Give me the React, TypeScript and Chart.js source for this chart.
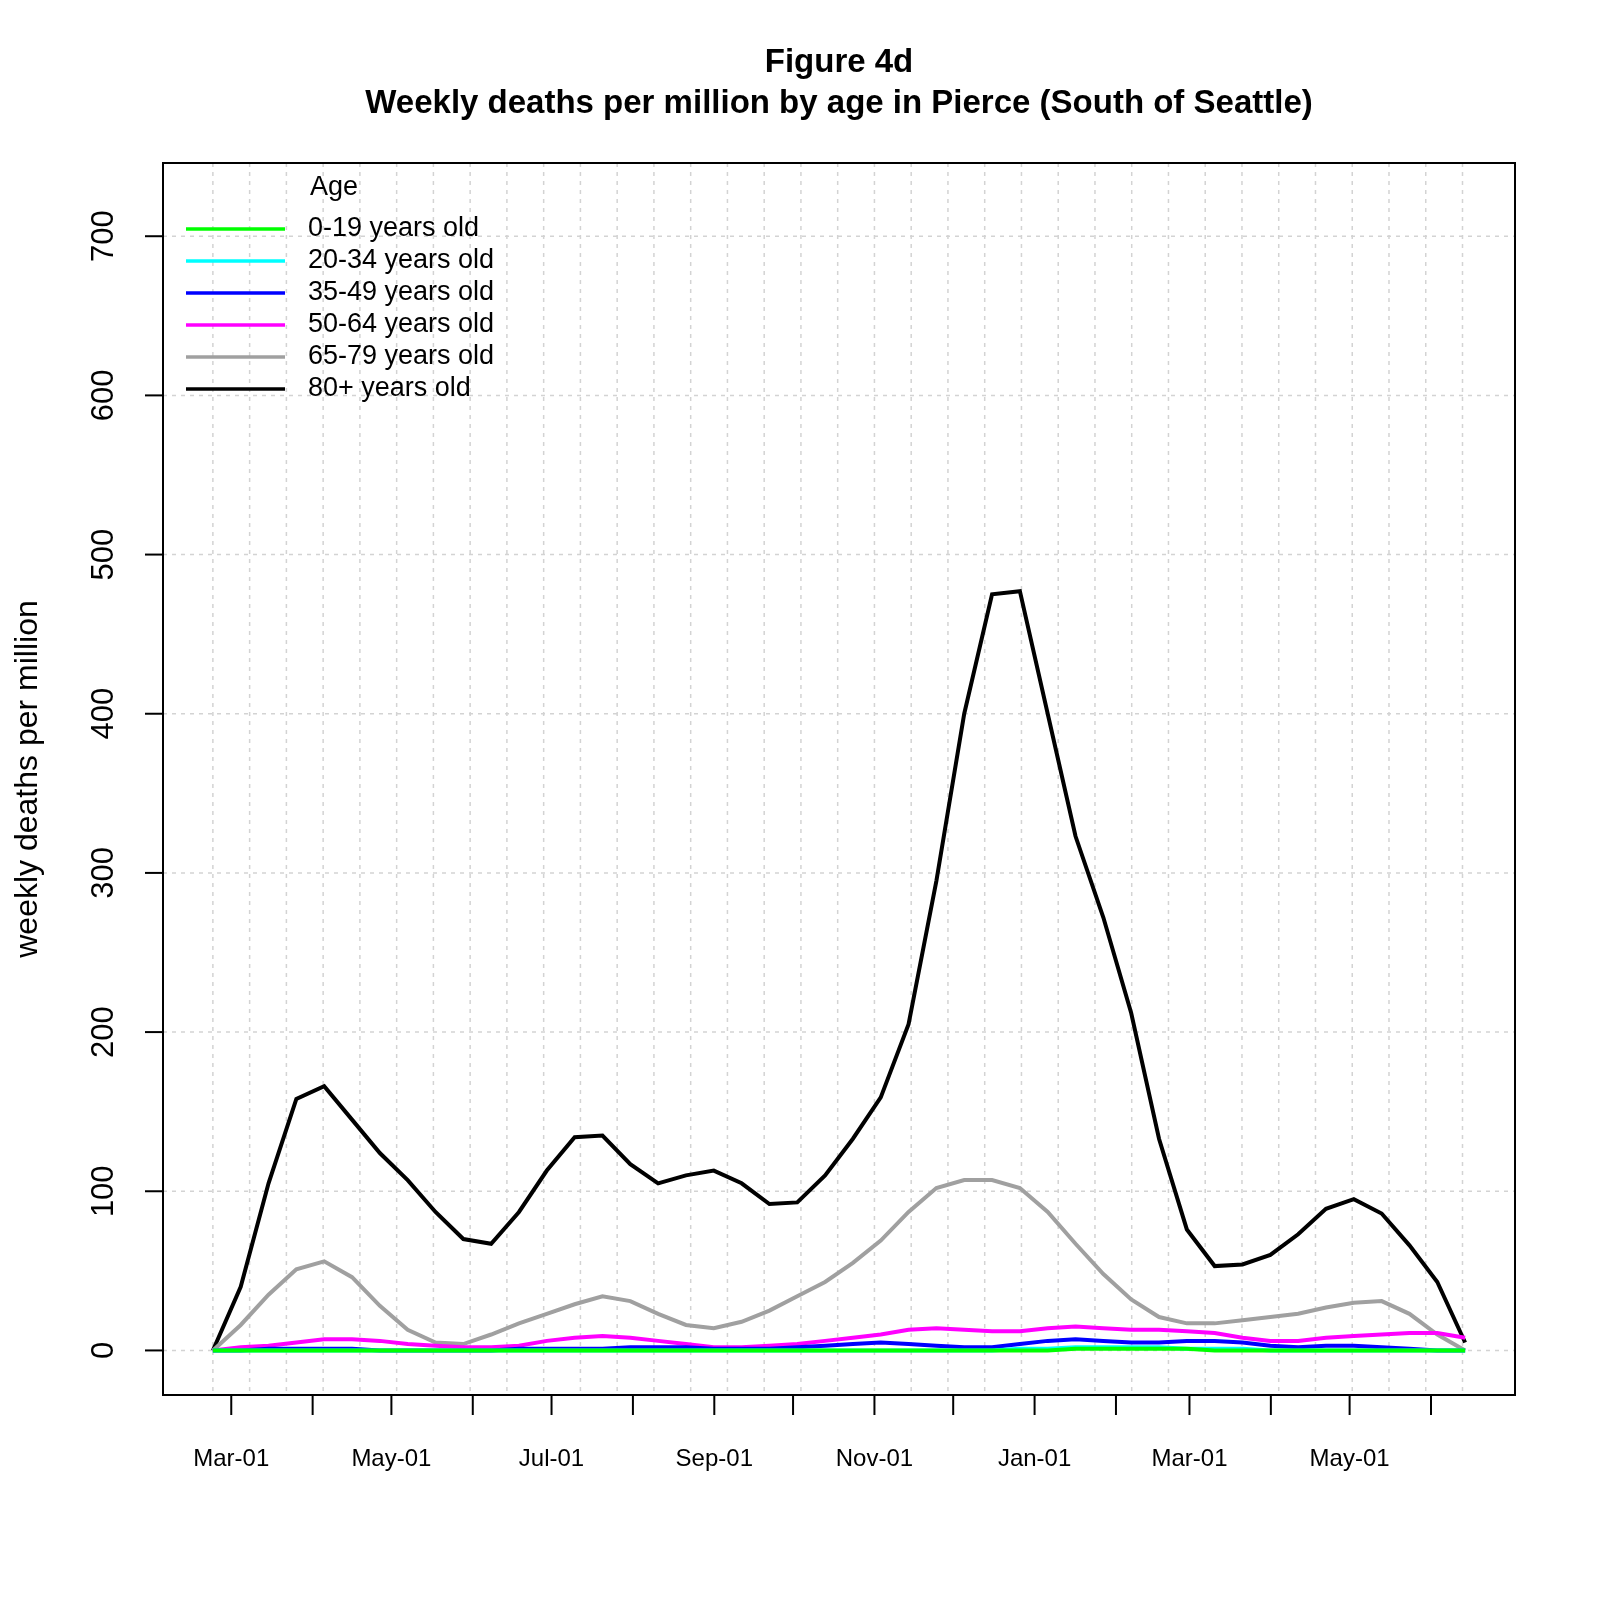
import React, { useEffect, useRef } from "react";
import { Chart, registerables } from "chart.js";
Chart.register(...registerables);

// x values: days since 2020-03-01
const days = [-7,3.6,14.2,24.8,35.4,46,56.6,67.2,77.8,88.4,99,109.6,120.2,130.8,141.4,152,162.6,173.2,183.8,194.4,205,215.6,226.2,236.8,247.4,258,268.6,279.2,289.8,300.4,311,321.6,332.2,342.8,353.4,364,374.6,385.2,395.8,406.4,417,427.6,438.2,448.8,459.4,470];
const age0_19 = [0,0,0,0,0,0,0,0,0,0,0,0,0,0,0,0,0,0,0,0,0,0,0,0,0,0,0,0,0,0,0,1,1,1,1,1,0,0,0,0,0,0,0,0,0,0];
const age20_34 = [0,0,0,0,0,0,0,0,0,0,0,0,0,0,0,0,0,0,0,0,0,0,0,0,0,0,0,0,0,1,1,2,2,2,2,1,1,1,0,0,0,0,0,0,0,0];
const age35_49 = [0,0,1,1,1,1,0,0,0,0,0,1,1,1,1,2,2,2,1,1,1,2,3,4,5,4,3,2,2,4,6,7,6,5,5,6,6,5,3,2,3,3,2,1,0,0];
const age50_64 = [0,2,3,5,7,7,6,4,3,2,2,3,6,8,9,8,6,4,2,2,3,4,6,8,10,13,14,13,12,12,14,15,14,13,13,12,11,8,6,6,8,9,10,11,11,8];
const age65_79 = [0,16,35,51,56,46,28,13,5,4,10,17,23,29,34,31,23,16,14,18,25,34,43,55,69,87,102,107,107,102,87,67,48,32,21,17,17,19,21,23,27,30,31,23,10,0];
const age80 = [0,40,105,158,166,145,124,107,87,70,67,87,113,134,135,117,105,110,113,105,92,93,110,133,159,205,295,400,475,477,400,323,272,212,133,76,53,54,60,73,89,95,86,66,43,5];

const seriesNames = ["0-19 years old","20-34 years old","35-49 years old","50-64 years old","65-79 years old","80+ years old"];
const seriesColors = ["#00ff00","#00ffff","#0000ff","#ff00ff","#a0a0a0","#000000"];
const seriesData = [age0_19, age20_34, age35_49, age50_64, age65_79, age80];

const monthTicks = [0,31,61,92,122,153,184,214,245,275,306,337,365,396,426,457];
const monthLabels = ["Mar-01","","May-01","","Jul-01","","Sep-01","","Nov-01","","Jan-01","","Mar-01","","May-01",""];
const yTicks = [0,100,200,300,400,500,600,700];
const gridDays = [-7,7,21,35,49,63,77,91,105,119,133,147,161,175,189,203,217,231,245,259,273,287,301,315,329,343,357,371,385,399,413,427,441,455,469];

const FONT = "'Liberation Sans', Arial, sans-serif";

export default function App() {
  const ref = useRef<HTMLCanvasElement>(null);
  useEffect(() => {
    document.body.style.margin = "0";
    const plugin = {
      id: "rstyle",
      beforeDatasetsDraw(chart: any) {
        const { ctx, chartArea: a, scales } = chart;
        ctx.save();
        ctx.strokeStyle = "#d3d3d3";
        ctx.lineWidth = 1.5;
        ctx.setLineDash([4, 5]);
        for (const v of yTicks) {
          const y = scales.y.getPixelForValue(v);
          ctx.beginPath(); ctx.moveTo(a.left, y); ctx.lineTo(a.right, y); ctx.stroke();
        }
        for (const d of gridDays) {
          const x = scales.x.getPixelForValue(d);
          ctx.beginPath(); ctx.moveTo(x, a.top); ctx.lineTo(x, a.bottom); ctx.stroke();
        }
        ctx.restore();
      },
      afterDatasetsDraw(chart: any) {
        const { ctx, chartArea: a, scales } = chart;
        ctx.save();
        ctx.strokeStyle = "#000"; ctx.lineWidth = 2; ctx.setLineDash([]);
        ctx.strokeRect(a.left, a.top, a.right - a.left, a.bottom - a.top);
        ctx.fillStyle = "#000";
        // x ticks
        ctx.font = `24px ${FONT}`; ctx.textAlign = "center"; ctx.textBaseline = "middle";
        monthTicks.forEach((d, i) => {
          const x = scales.x.getPixelForValue(d);
          ctx.beginPath(); ctx.moveTo(x, a.bottom); ctx.lineTo(x, a.bottom + 20); ctx.stroke();
          if (monthLabels[i]) ctx.fillText(monthLabels[i], x, a.bottom + 64);
        });
        // y ticks
        ctx.font = `31px ${FONT}`;
        for (const v of yTicks) {
          const y = scales.y.getPixelForValue(v);
          ctx.beginPath(); ctx.moveTo(a.left, y); ctx.lineTo(a.left - 18, y); ctx.stroke();
          ctx.save(); ctx.translate(a.left - 59, y); ctx.rotate(-Math.PI / 2);
          ctx.fillText(String(v), 0, 0); ctx.restore();
        }
        ctx.font = `32px ${FONT}`;
        ctx.save(); ctx.translate(28, (a.top + a.bottom) / 2); ctx.rotate(-Math.PI / 2);
        ctx.fillText("weekly deaths per million", 0, 0); ctx.restore();
        // titles
        const cx = (a.left + a.right) / 2;
        ctx.font = `bold 33px ${FONT}`;
        ctx.fillText("Figure 4d", cx, 63);
        ctx.fillText("Weekly deaths per million by age in Pierce (South of Seattle)", cx, 104);
        // legend
        ctx.font = `27px ${FONT}`; ctx.textAlign = "left";
        ctx.fillText("Age", 310, 188);
        seriesNames.forEach((n, i) => {
          const y = 229 + i * 32;
          ctx.strokeStyle = seriesColors[i]; ctx.lineWidth = 3.5;
          ctx.beginPath(); ctx.moveTo(186, y); ctx.lineTo(285, y); ctx.stroke();
          ctx.fillText(n, 308, y);
        });
        ctx.restore();
      },
    };
    const chart = new Chart(ref.current!, {
      type: "line",
      data: {
        datasets: seriesData.map((s, i) => ({
          label: seriesNames[i],
          data: s.map((v, j) => ({ x: days[j], y: v })),
          borderColor: seriesColors[i],
          borderWidth: 4,
          pointRadius: 0,
          tension: 0,
          fill: false,
        })),
      },
      options: {
        animation: false,
        responsive: false,
        layout: { padding: { left: 163, top: 163, right: 85, bottom: 205 } },
        plugins: { legend: { display: false }, tooltip: { enabled: false }, title: { display: false } },
        scales: {
          x: { type: "linear", min: -26, max: 489, display: false },
          y: { type: "linear", min: -28, max: 746, display: false },
        },
      },
      plugins: [plugin],
    });
    return () => chart.destroy();
  }, []);
  return <canvas ref={ref} width={1600} height={1600} style={{ display: "block", background: "#fff" }} />;
}
